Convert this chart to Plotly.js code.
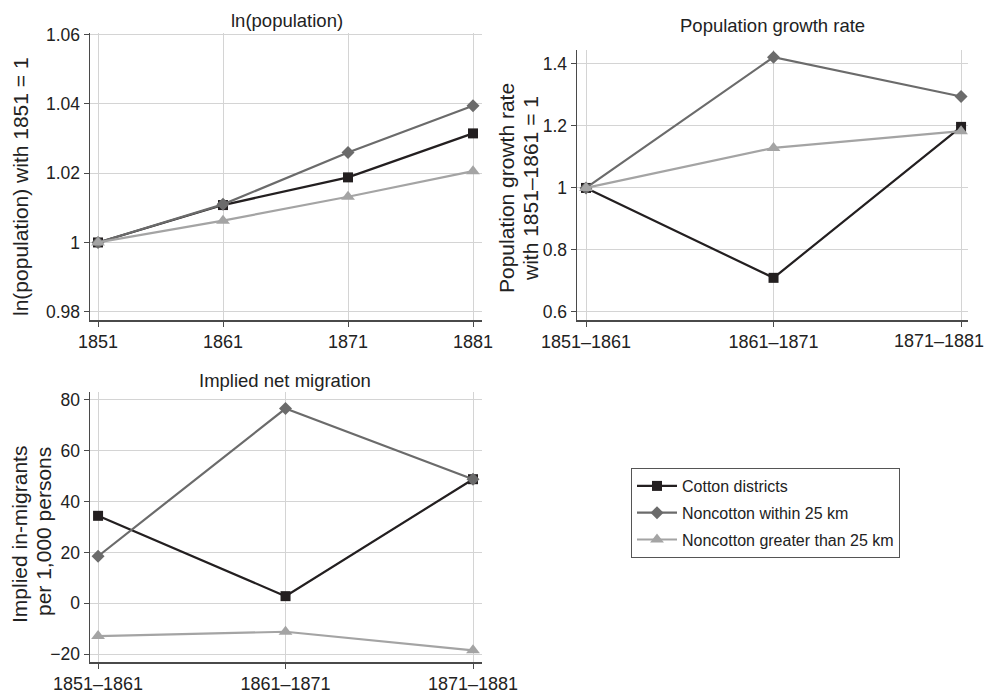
<!DOCTYPE html>
<html>
<head>
<meta charset="utf-8">
<script src="https://cdn.plot.ly/plotly-3.0.1.min.js"></script>
<style>html,body{margin:0;padding:0;background:#fff;}#chart{width:986px;height:696px;}</style>
</head>
<body>
<div id="chart"></div>
<script>
// ---- data ----
var years = [1851, 1861, 1871, 1881];
var lnCotton  = [1, 1.0108, 1.0188, 1.0315];
var lnWithin  = [1, 1.0110, 1.0260, 1.0395];
var lnGreater = [1, 1.0063, 1.0132, 1.0206];

var periods = ['1851–1861', '1861–1871', '1871–1881'];
var growthCotton  = [1, 0.710, 1.197];
var growthWithin  = [1, 1.422, 1.295];
var growthGreater = [1, 1.129, 1.183];

var migCotton  = [34.4, 2.8, 48.8];
var migWithin  = [18.5, 76.6, 48.8];
var migGreater = [-12.9, -11.2, -18.5];

var seriesNames = ['Cotton districts', 'Noncotton within 25 km', 'Noncotton greater than 25 km'];

var lnTickVals = [0.98, 1, 1.02, 1.04, 1.06];
var lnTickText = ['0.98', '1', '1.02', '1.04', '1.06'];
var grTickVals = [0.6, 0.8, 1, 1.2, 1.4];
var grTickText = ['0.6', '0.8', '1', '1.2', '1.4'];
var migTickVals = [-20, 0, 20, 40, 60, 80];
var migTickText = ['−20', '0', '20', '40', '60', '80'];

// ---- styles ----
var colors = ['#231f20', '#6b6b6b', '#a4a4a4'];
var symbols = ['square', 'diamond', 'triangle-up'];
var sizes = [10, 10, 12];
var FONT = '"Liberation Sans", Arial, Helvetica, sans-serif';
var W = 986, H = 696;
function px(x) { return x / W; }
function py(y) { return 1 - y / H; }

var traces = [];
function addSet(xs, ysList, xa, ya, showLegend) {
  ysList.forEach(function (ys, i) {
    traces.push({
      x: xs, y: ys, xaxis: xa, yaxis: ya,
      type: 'scatter', mode: 'lines+markers',
      name: seriesNames[i], legendgroup: 'g' + i, showlegend: showLegend,
      line: {color: colors[i], width: 2.2},
      marker: {color: colors[i], symbol: symbols[i], size: sizes[i], line: {width: 0}},
      cliponaxis: false
    });
  });
}
addSet(years, [lnCotton, lnWithin, lnGreater], 'x', 'y', true);
addSet(periods, [growthCotton, growthWithin, growthGreater], 'x2', 'y2', false);
addSet(periods, [migCotton, migWithin, migGreater], 'x3', 'y3', false);

function axisBase(fs) {
  return {
    showline: true, linecolor: '#4a4a4a', linewidth: 1.5,
    showgrid: true, gridcolor: '#d4d4d4', gridwidth: 1,
    zeroline: false, ticks: 'outside', ticklen: 5, tickcolor: '#4a4a4a', tickwidth: 1,
    tickfont: {family: FONT, size: fs, color: '#222'},
    mirror: false, fixedrange: true
  };
}
function mkx(extra) { var a = axisBase(18); for (var k in extra) a[k] = extra[k]; return a; }
function mky(extra) { var a = axisBase(17.5); for (var k in extra) a[k] = extra[k]; return a; }

// last period label of the growth panel is drawn shifted left (as in the reference) so it fits
var grXTickText = periods.slice(0, 2).concat(['']);

var TFS = 18.5, YFS = 21;
var layout = {
  width: W, height: H,
  margin: {l: 0, r: 0, t: 0, b: 0},
  paper_bgcolor: '#fff', plot_bgcolor: '#fff',
  font: {family: FONT, color: '#222'},
  showlegend: true,
  legend: {
    x: px(631), y: py(468), xanchor: 'left', yanchor: 'top',
    bordercolor: '#555', borderwidth: 1, bgcolor: '#fff',
    font: {family: FONT, size: 16, color: '#222'},
    tracegroupgap: 3, itemwidth: 40
  },
  xaxis: mkx({domain: [px(90), px(482)], range: [1850.36, 1881.72], tickvals: years, ticktext: years.map(String), anchor: 'y'}),
  yaxis: mky({domain: [py(320), py(33)], range: [0.9776, 1.0605], tickvals: lnTickVals, ticktext: lnTickText, anchor: 'x'}),
  xaxis2: mkx({domain: [px(577), px(968)], type: 'category', range: [-0.048, 2.037], tickvals: periods, ticktext: grXTickText, anchor: 'y2'}),
  yaxis2: mky({domain: [py(320), py(50)], range: [0.574, 1.445], tickvals: grTickVals, ticktext: grTickText, anchor: 'x2'}),
  xaxis3: mkx({domain: [px(90), px(482)], type: 'category', range: [-0.043, 2.048], anchor: 'y3'}),
  yaxis3: mky({domain: [py(662), py(392)], range: [-23.1, 83.1], tickvals: migTickVals, ticktext: migTickText, anchor: 'x3'}),
  annotations: [
    {text: periods[2], x: periods[2], xref: 'x2', y: py(341), yref: 'paper', xshift: -22, showarrow: false, xanchor: 'center', yanchor: 'middle', font: {family: FONT, size: 18, color: '#222'}},
    {text: 'ln(population)', x: px(287), y: py(21), xref: 'paper', yref: 'paper', showarrow: false, xanchor: 'center', yanchor: 'middle', font: {family: FONT, size: TFS, color: '#222'}},
    {text: 'Population growth rate', x: px(772), y: py(25), xref: 'paper', yref: 'paper', showarrow: false, xanchor: 'center', yanchor: 'middle', font: {family: FONT, size: TFS, color: '#222'}},
    {text: 'Implied net migration', x: px(285), y: py(380), xref: 'paper', yref: 'paper', showarrow: false, xanchor: 'center', yanchor: 'middle', font: {family: FONT, size: TFS, color: '#222'}},
    {text: 'ln(population) with 1851 = 1', x: px(20), y: py(187), xref: 'paper', yref: 'paper', showarrow: false, textangle: -90, xanchor: 'center', yanchor: 'middle', font: {family: FONT, size: YFS, color: '#222'}},
    {text: 'Population growth rate', x: px(506), y: py(188), xref: 'paper', yref: 'paper', showarrow: false, textangle: -90, xanchor: 'center', yanchor: 'middle', font: {family: FONT, size: YFS, color: '#222'}},
    {text: 'with 1851–1861 = 1', x: px(530), y: py(189), xref: 'paper', yref: 'paper', showarrow: false, textangle: -90, xanchor: 'center', yanchor: 'middle', font: {family: FONT, size: YFS, color: '#222'}},
    {text: 'Implied in-migrants', x: px(19), y: py(535), xref: 'paper', yref: 'paper', showarrow: false, textangle: -90, xanchor: 'center', yanchor: 'middle', font: {family: FONT, size: YFS, color: '#222'}},
    {text: 'per 1,000 persons', x: px(43), y: py(532), xref: 'paper', yref: 'paper', showarrow: false, textangle: -90, xanchor: 'center', yanchor: 'middle', font: {family: FONT, size: YFS, color: '#222'}}
  ]
};

Plotly.newPlot('chart', traces, layout, {displayModeBar: false, staticPlot: true});
</script>
</body>
</html>
